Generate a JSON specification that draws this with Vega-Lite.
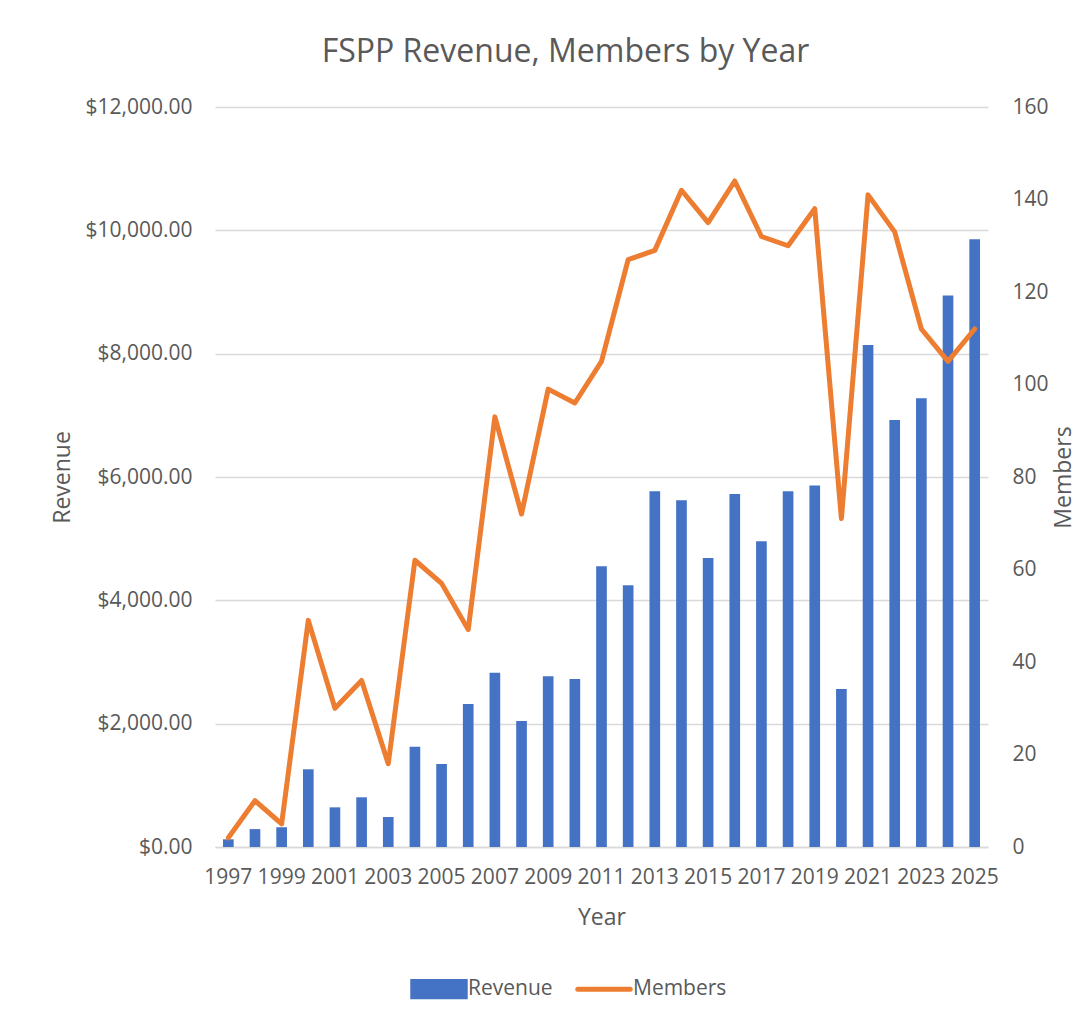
{
  "$schema": "https://vega.github.io/schema/vega-lite/v6.json",
  "autosize": "none",
  "width": 773,
  "height": 740,
  "padding": {"left": 215, "top": 107, "right": 90, "bottom": 176},
  "background": "white",
  "title": {
    "text": "FSPP Revenue, Members by Year",
    "font": "Open Sans",
    "fontSize": 32,
    "fontWeight": "normal",
    "color": "#595959",
    "anchor": "middle",
    "dx": -36,
    "offset": 27
  },
  "config": {
    "view": {"stroke": null},
    "font": "Open Sans",
    "axis": {
      "labelFont": "Open Sans",
      "titleFont": "Open Sans",
      "labelColor": "#595959",
      "titleColor": "#595959",
      "labelFontSize": 21,
      "titleFontSize": 23,
      "titleFontWeight": "normal",
      "ticks": false,
      "domain": false
    }
  },
  "data": {
    "values": [
      {"Year": 1997, "Revenue": 125, "Members": 2},
      {"Year": 1998, "Revenue": 290, "Members": 10},
      {"Year": 1999, "Revenue": 320, "Members": 5},
      {"Year": 2000, "Revenue": 1260, "Members": 49},
      {"Year": 2001, "Revenue": 643, "Members": 30},
      {"Year": 2002, "Revenue": 806, "Members": 36},
      {"Year": 2003, "Revenue": 486, "Members": 18},
      {"Year": 2004, "Revenue": 1627, "Members": 62},
      {"Year": 2005, "Revenue": 1346, "Members": 57},
      {"Year": 2006, "Revenue": 2319, "Members": 47},
      {"Year": 2007, "Revenue": 2827, "Members": 93},
      {"Year": 2008, "Revenue": 2043, "Members": 72},
      {"Year": 2009, "Revenue": 2768, "Members": 99},
      {"Year": 2010, "Revenue": 2724, "Members": 96},
      {"Year": 2011, "Revenue": 4551, "Members": 105},
      {"Year": 2012, "Revenue": 4243, "Members": 127},
      {"Year": 2013, "Revenue": 5768, "Members": 129},
      {"Year": 2014, "Revenue": 5622, "Members": 142},
      {"Year": 2015, "Revenue": 4686, "Members": 135},
      {"Year": 2016, "Revenue": 5724, "Members": 144},
      {"Year": 2017, "Revenue": 4957, "Members": 132},
      {"Year": 2018, "Revenue": 5767, "Members": 130},
      {"Year": 2019, "Revenue": 5861, "Members": 138},
      {"Year": 2020, "Revenue": 2562, "Members": 71},
      {"Year": 2021, "Revenue": 8140, "Members": 141},
      {"Year": 2022, "Revenue": 6925, "Members": 133},
      {"Year": 2023, "Revenue": 7279, "Members": 112},
      {"Year": 2024, "Revenue": 8944, "Members": 105},
      {"Year": 2025, "Revenue": 9855, "Members": 112}
    ]
  },
  "encoding": {
    "x": {
      "field": "Year",
      "type": "ordinal",
      "scale": {"paddingInner": 0.6, "paddingOuter": 0.3},
      "axis": {
        "title": "Year",
        "labelAngle": 0,
        "values": [1997, 1999, 2001, 2003, 2005, 2007, 2009, 2011, 2013, 2015, 2017, 2019, 2021, 2023, 2025],
        "labelPadding": 19,
        "titlePadding": 19,
        "domain": true,
        "domainColor": "#D9D9D9",
        "domainWidth": 1.5
      }
    }
  },
  "layer": [
    {
      "mark": {"type": "bar", "color": "#4472C4"},
      "encoding": {
        "y": {
          "field": "Revenue",
          "type": "quantitative",
          "scale": {"domain": [0, 12000], "nice": false},
          "axis": {
            "title": "Revenue",
            "orient": "left",
            "format": "$,.2f",
            "values": [0, 2000, 4000, 6000, 8000, 10000, 12000],
            "grid": true,
            "gridColor": "#D9D9D9",
            "gridWidth": 1.5,
            "labelPadding": 23,
            "titlePadding": 10
          }
        },
        "color": {
          "datum": "Revenue",
          "type": "nominal",
          "scale": {"domain": ["Revenue", "Members"], "range": ["#4472C4", "#ED7D31"]},
          "legend": {
            "title": null,
            "orient": "none",
            "direction": "horizontal",
            "legendX": 195,
            "legendY": 853,
            "labelFont": "Open Sans",
            "labelFontSize": 21,
            "labelColor": "#595959",
            "labelOffset": 0,
            "columnPadding": 14,
            "symbolSize": 2750,
            "encode": {
              "symbols": {
                "update": {
                  "shape": {"signal": "datum.value === 'Members' ? 'M-1,-0.29M1,0.29M-1,0H1' : 'M-1,-0.29H1V0.29H-1Z'"},
                  "fill": {"signal": "datum.value === 'Members' ? 'transparent' : '#4472C4'"},
                  "stroke": {"signal": "datum.value === 'Members' ? '#ED7D31' : 'transparent'"},
                  "strokeWidth": {"value": 5},
                  "strokeCap": {"value": "round"},
                  "opacity": {"value": 1}
                }
              }
            }
          }
        }
      }
    },
    {
      "mark": {"type": "line", "color": "#ED7D31", "strokeWidth": 5, "strokeCap": "round", "strokeJoin": "round"},
      "encoding": {
        "y": {
          "field": "Members",
          "type": "quantitative",
          "scale": {"domain": [0, 160], "nice": false},
          "axis": {
            "title": "Members",
            "orient": "right",
            "values": [0, 20, 40, 60, 80, 100, 120, 140, 160],
            "grid": false,
            "labelAlign": "left",
            "labelPadding": 24,
            "titlePadding": 27,
            "titleAngle": 270
          }
        },
        "color": {"datum": "Members", "type": "nominal"}
      }
    }
  ],
  "resolve": {"scale": {"y": "independent"}}
}
